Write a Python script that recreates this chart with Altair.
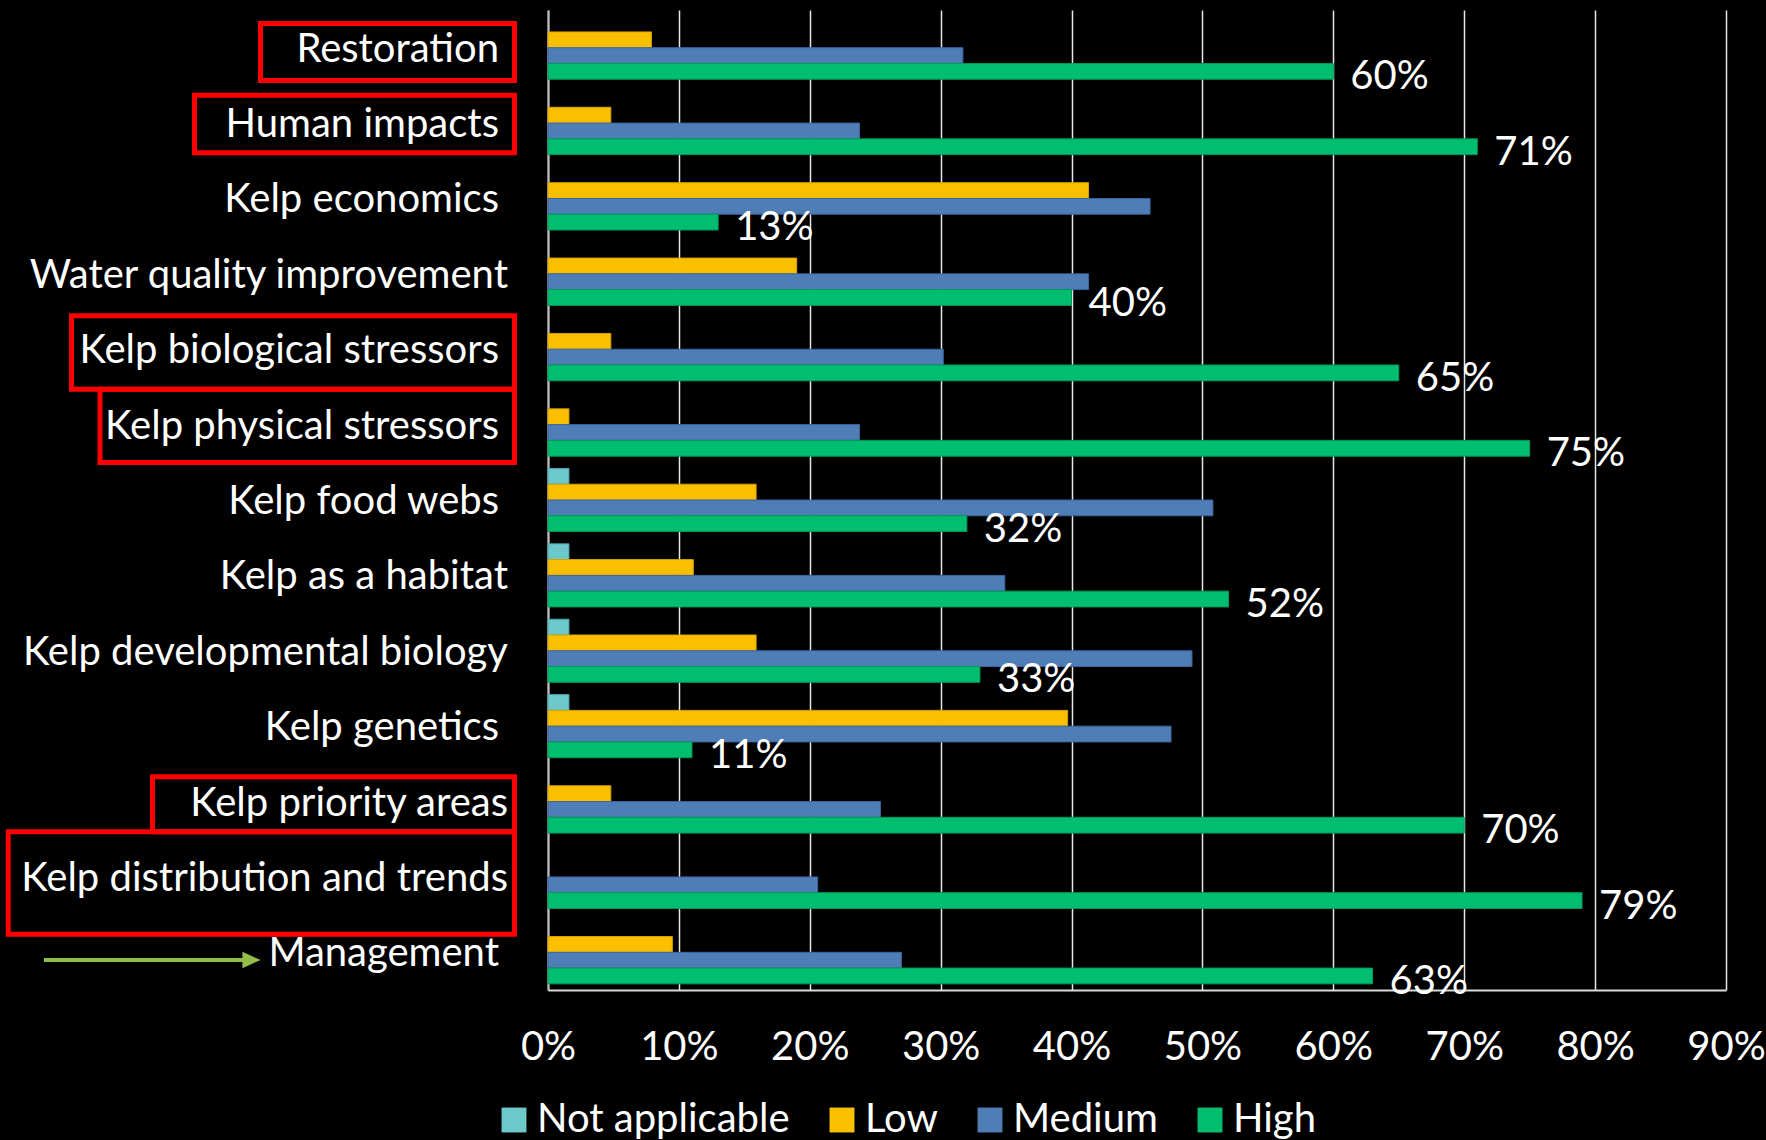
import altair as alt
import pandas as pd

# Research topics, listed top to bottom
categories = [
    "Restoration",
    "Human impacts",
    "Kelp economics",
    "Water quality improvement",
    "Kelp biological stressors",
    "Kelp physical stressors",
    "Kelp food webs",
    "Kelp as a habitat",
    "Kelp developmental biology",
    "Kelp genetics",
    "Kelp priority areas",
    "Kelp distribution and trends",
    "Management",
]
# topic names that carry a trailing space in the category list
spaced_labels = [
    "Restoration", "Human impacts", "Kelp economics", "Kelp biological stressors",
    "Kelp physical stressors", "Kelp food webs", "Kelp genetics", "Management",
]

series = ["Not applicable", "Low", "Medium", "High"]

# share of respondents (%) per priority level
not_applicable = [0, 0, 0, 0, 0, 0, 1.6, 1.6, 1.6, 1.6, 0, 0, 0]
low = [7.9, 4.8, 41.3, 19.0, 4.8, 1.6, 15.9, 11.1, 15.9, 39.7, 4.8, 0, 9.5]
medium = [31.7, 23.8, 46.0, 41.3, 30.2, 23.8, 50.8, 34.9, 49.2, 47.6, 25.4, 20.6, 27.0]
high = [60, 71, 13, 40, 65, 75, 32, 52, 33, 11, 70, 79, 63]

fill_colors = ["#6DC8CC", "#FAC000", "#4F7DB6", "#00BE70"]
edge_colors = ["#4FA6AA", "#D6A300", "#3D669E", "#009A5A"]

FONT = "Lato"
FS = 40

rows = []
for name, values in zip(series, [not_applicable, low, medium, high]):
    for cat, v in zip(categories, values):
        rows.append({"category": cat, "series": name, "value": v})
df = pd.DataFrame(rows)

topic_df = pd.DataFrame(
    {"category": categories, "spaced": [c in spaced_labels for c in categories]}
)

y_enc = alt.Y(
    "category:N",
    sort=categories,
    scale=alt.Scale(domain=categories, paddingInner=0, paddingOuter=0),
    axis=alt.Axis(
        title=None,
        labels=False,
        ticks=False,
        grid=False,
        domain=True,
        domainColor="#BFBFBF",
        domainWidth=2,
    ),
)
yoff_enc = alt.YOffset(
    "series:N",
    sort=series,
    scale=alt.Scale(domain=series, paddingInner=0, paddingOuter=0.39),
)
x_enc = alt.X(
    "value:Q",
    scale=alt.Scale(domain=[0, 90], nice=False),
    axis=alt.Axis(
        title=None,
        values=list(range(0, 91, 10)),
        labelExpr="datum.value + '%'",
        labelFont=FONT,
        labelFontSize=FS,
        labelColor="white",
        labelPadding=37,
        labelFlush=False,
        labelOverlap=False,
        ticks=False,
        grid=True,
        gridColor="#E6E6E6",
        gridWidth=1.5,
        domainColor="#D9D9D9",
        domainWidth=2,
    ),
)

bars = (
    alt.Chart(df)
    .transform_filter("datum.value > 0")
    .mark_bar(strokeWidth=1)
    .encode(
        x=x_enc,
        y=y_enc,
        yOffset=yoff_enc,
        color=alt.Color(
            "series:N",
            sort=series,
            scale=alt.Scale(domain=series, range=fill_colors),
            legend=alt.Legend(
                title=None,
                orient="none",
                direction="horizontal",
                legendX=-54,
                legendY=1090,
                symbolType="square",
                symbolSize=620,
                symbolStrokeWidth=0,
                labelFont=FONT,
                labelFontSize=FS,
                labelColor="white",
                labelOffset=3,
                labelLimit=600,
                columnPadding=32,
                padding=0,
            ),
        ),
        stroke=alt.Stroke(
            "series:N",
            sort=series,
            scale=alt.Scale(domain=series, range=edge_colors),
            legend=None,
        ),
    )
)

# "High" share printed at the end of each green bar
labels = (
    alt.Chart(df)
    .transform_filter("datum.series == 'High'")
    .transform_calculate(label="format(datum.value, '.0f') + '%'")
    .mark_text(align="left", baseline="middle", dx=17, dy=6, font=FONT, fontSize=FS, color="white")
    .encode(x="value:Q", y=alt.Y("category:N", sort=categories), yOffset=yoff_enc, text="label:N")
)

# topic names, right-aligned left of the plot; names with a trailing space end a little earlier
topic_text = dict(align="right", baseline="middle", dy=2, font=FONT, fontSize=FS, color="white")
topics_plain = (
    alt.Chart(topic_df)
    .transform_filter("!datum.spaced")
    .mark_text(**topic_text)
    .encode(y=alt.Y("category:N", sort=categories), x=alt.value(-40), text="category:N")
)
topics_spaced = (
    alt.Chart(topic_df)
    .transform_filter("datum.spaced")
    .mark_text(**topic_text)
    .encode(y=alt.Y("category:N", sort=categories), x=alt.value(-49), text="category:N")
)

# red highlight frames around selected topic names (plot-relative pixels)
anchor = alt.Chart(pd.DataFrame({"k": [0]}))
frames = [
    (-287.5, -33.5, 13.5, 70.5),
    (-353.5, -33.5, 85.2, 142.8),
    (-476.5, -33.5, 305.8, 379.2),
    (-448.0, -33.5, 379.2, 452.5),
    (-395.5, -33.5, 766.8, 821.8),
    (-539.8, -33.5, 821.8, 924.2),
]
frame_layers = [
    anchor.mark_rect(fillOpacity=0, stroke="#FF0000", strokeWidth=5).encode(
        x=alt.value(x0), x2=alt.value(x1), y=alt.value(y0), y2=alt.value(y1)
    )
    for x0, x1, y0, y1 in frames
]

# green pointer toward the Management label
arrow_shaft = anchor.mark_rule(color="#92BD48", strokeWidth=4).encode(
    x=alt.value(-504), x2=alt.value(-302), y=alt.value(950)
)
arrow_head = anchor.mark_point(
    shape="M -1 -0.9 L 1 0 L -1 0.9 Z", filled=True, color="#92BD48", size=330, opacity=1
).encode(x=alt.value(-296.5), y=alt.value(950))

chart = (
    alt.layer(bars, labels, topics_plain, topics_spaced, *frame_layers, arrow_shaft, arrow_head)
    .properties(
        width=1178,
        height=980,
        autosize=alt.AutoSizeParams(type="none"),
        padding={"left": 548, "top": 10, "right": 40, "bottom": 150},
    )
    .configure(background="black")
    .configure_view(strokeWidth=0)
)

chart.save("out.html", embed_options={"renderer": "svg", "actions": False})
